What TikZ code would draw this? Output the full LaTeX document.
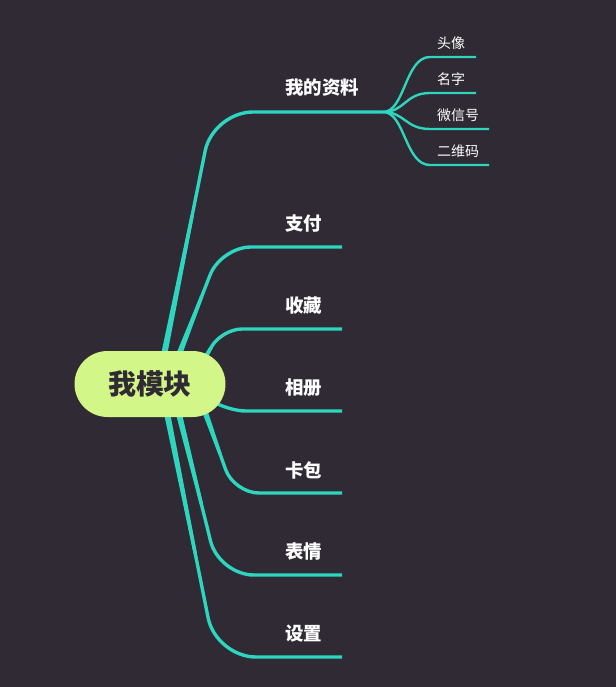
\documentclass[tikz,border=0pt]{standalone}
\usepackage{fontspec}
\setmainfont{Noto Sans CJK SC}
\usetikzlibrary{positioning, backgrounds, calc}
\definecolor{bgdark}{HTML}{2F2A33}
\definecolor{mmteal}{HTML}{2ED5BF}
\definecolor{rootlime}{HTML}{D3F688}
\tikzset{
    rootbox/.style={fill=rootlime, rounded corners=33bp, minimum width=151bp, minimum height=66bp, text=bgdark, font=\bfseries\fontsize{28}{28}\selectfont},
    mainlabel/.style={anchor=west, text=white, inner sep=0pt, font=\bfseries\fontsize{18.5}{18.5}\selectfont},
    sublabel/.style={anchor=west, text=white, inner sep=0pt, font=\fontsize{14}{14}\selectfont},
    branch/.style={draw=mmteal, line width=3.4pt},
    twig/.style={draw=mmteal, line width=2.4pt}
}
% thicker root end of a branch
\newcommand\taper[2]{%
  \coordinate(tM) at ($(#1)!.6!(#2)$);
  \fill[mmteal]($(#1)!3.2pt!90:(#2)$)--($(#1)!3.2pt!-90:(#2)$)--($(tM)!1.7pt!-90:(#2)$)--($(tM)!1.7pt!90:(#2)$)--cycle;}

\begin{document}
\begin{tikzpicture}[x=1bp, y=-1bp]
  \useasboundingbox(0,0) rectangle (616,687);
  \node(root)[rootbox] at (150,384){我模块};
  % main topics
  \node(prof)[mainlabel] at (285,88){我的资料};
  \node(pay)[mainlabel] at (285,224){支付};
  \node(coll)[mainlabel] at (285,306){收藏};
  \node(album)[mainlabel] at (285,388){相册};
  \node(card)[mainlabel] at (285,470){卡包};
  \node(emoji)[mainlabel] at (285,552){表情};
  \node(sett)[mainlabel] at (285,634){设置};
  % sub topics
  \node(avatar)[sublabel] at (437,43){头像};
  \node(name)[sublabel] at (437,79){名字};
  \node(wxid)[sublabel] at (437,115){微信号};
  \node(qr)[sublabel] at (437,151){二维码};
  % branch start, bend and end points
  \coordinate(profS) at ($(root)+(11,-14)$);
  \coordinate(payS) at ($(root)+(23,-14)$);
  \coordinate(collS) at ($(root)+(45,-9)$);
  \coordinate(albumS) at ($(root)+(45,6)$);
  \coordinate(cardS) at ($(root)+(49,11)$);
  \coordinate(emojiS) at ($(root)+(25,14)$);
  \coordinate(settS) at ($(root)+(14,14)$);
  \coordinate(profB) at (213,112);
  \coordinate(payB) at (221,247);
  \coordinate(collB) at (222,329);
  \coordinate(albumB) at (228,411);
  \coordinate(cardB) at (234,493);
  \coordinate(emojiB) at (219,575);
  \coordinate(settB) at (216,657);
  \coordinate(profJ) at (383,112);
  \coordinate(payE) at (342,247);
  \coordinate(collE) at (342,329);
  \coordinate(albumE) at (342,411);
  \coordinate(cardE) at (342,493);
  \coordinate(emojiE) at (342,575);
  \coordinate(settE) at (342,657);
  \coordinate(avatarE) at (476,57);
  \coordinate(nameE) at (476,93);
  \coordinate(wxidE) at (489,129);
  \coordinate(qrE) at (489,165);
  \begin{scope}[on background layer]
    \fill[bgdark](-3,-3) rectangle (620,690);
    \draw[branch, rounded corners=40pt](profS)--(profB)--(profJ);
    \draw[branch, rounded corners=30pt](payS)--(payB)--(payE);
    \draw[branch, rounded corners=20pt](collS)--(collB)--(collE);
    \draw[branch, rounded corners=18pt](albumS)--(albumB)--(albumE);
    \draw[branch, rounded corners=25pt](cardS)--(cardB)--(cardE);
    \draw[branch, rounded corners=35pt](emojiS)--(emojiB)--(emojiE);
    \draw[branch, rounded corners=40pt](settS)--(settB)--(settE);
    \taper{profS}{profB}
    \taper{payS}{payB}
    \taper{collS}{collB}
    \taper{albumS}{albumB}
    \taper{cardS}{cardB}
    \taper{emojiS}{emojiB}
    \taper{settS}{settB}
    \draw[twig](profJ) .. controls (405,112) and (405,57) .. (430,57)--(avatarE);
    \draw[twig](profJ) .. controls (405,112) and (405,93) .. (430,93)--(nameE);
    \draw[twig](profJ) .. controls (405,112) and (405,129) .. (430,129)--(wxidE);
    \draw[twig](profJ) .. controls (405,112) and (405,165) .. (430,165)--(qrE);
  \end{scope}
\end{tikzpicture}
\end{document}
